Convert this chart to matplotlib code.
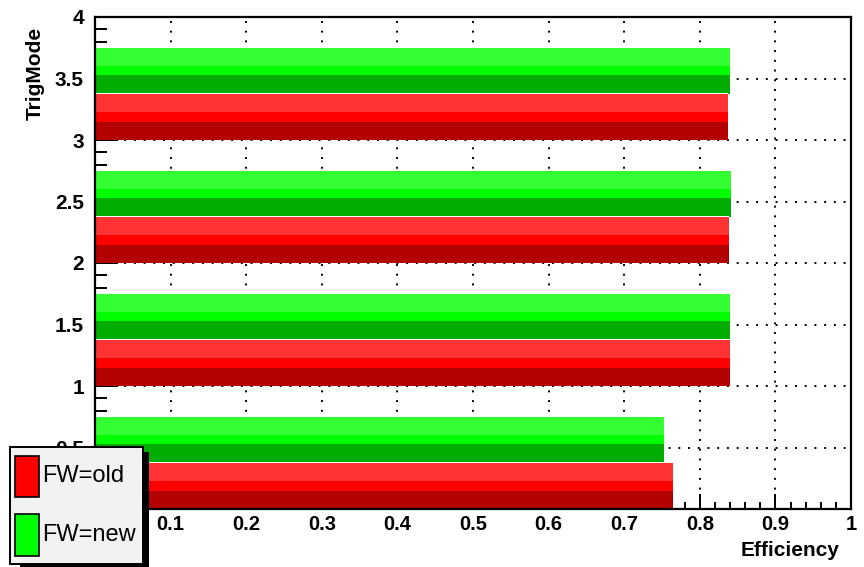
import matplotlib
matplotlib.use("Agg")
import matplotlib.pyplot as plt
from matplotlib.patches import Rectangle
from matplotlib.ticker import MultipleLocator

plt.rcParams['font.family'] = ['Liberation Sans', 'DejaVu Sans']

# efficiency per trigger mode, old vs new firmware
trig_mode = [0, 1, 2, 3]
eff_old = [0.765, 0.840, 0.839, 0.837]
eff_new = [0.753, 0.840, 0.841, 0.840]

labels = ["FW=old", "FW=new"]
red_shades = ["#B30000", "#FF0000", "#FF3333"]    # dark, base, bright
green_shades = ["#00AD00", "#00FF00", "#33FF33"]
bar_width = 0.375
band_frac = [0.4, 0.2, 0.4]


def shaded_barh(ax, y0, length, height, shades):
    # root-style bar: dark bottom band, plain middle, bright top
    bottom = y0
    for frac, col in zip(band_frac, shades):
        ax.barh(bottom, length, height=height * frac, align='edge',
                color=col, linewidth=0, zorder=1)
        bottom += height * frac
    # thin white rim on top of each bar
    ax.barh(y0 + height, length, height=0.006, align='edge',
            color='white', linewidth=0, zorder=1.1)


def tick_fmt(v, pos):
    # the zero labels sit under the legend box
    return "" if abs(v) < 1e-9 else f"{v:g}"


fig = plt.figure(figsize=(8.64, 5.67), dpi=100)
ax = fig.add_axes([95 / 864, 1 - 509 / 567, 756 / 864, 492 / 567])

for i, m in enumerate(trig_mode):
    shaded_barh(ax, m, eff_old[i], bar_width, red_shades)
    shaded_barh(ax, m + bar_width, eff_new[i], bar_width, green_shades)

ax.set_xlim(0, 1)
ax.set_ylim(0, 4)
ax.xaxis.set_major_locator(MultipleLocator(0.1))
ax.xaxis.set_minor_locator(MultipleLocator(0.02))
ax.yaxis.set_major_locator(MultipleLocator(0.5))
ax.yaxis.set_minor_locator(MultipleLocator(0.1))
ax.xaxis.set_major_formatter(tick_fmt)
ax.yaxis.set_major_formatter(tick_fmt)

ax.set_axisbelow(True)
ax.grid(True, which='major', color='black', linestyle=(0, (1, 4)), linewidth=1.4)

ax.tick_params(axis='x', which='major', direction='in', length=10.8, width=1.4,
               pad=4, labelsize=14.5)
ax.tick_params(axis='x', which='minor', direction='in', length=5.3, width=1.4)
ax.tick_params(axis='y', which='major', direction='in', length=16.5, width=1.4,
               pad=8, labelsize=15)
ax.tick_params(axis='y', which='minor', direction='in', length=8.3, width=1.4)
for lab in ax.get_xticklabels() + ax.get_yticklabels():
    lab.set_fontweight('bold')

for sp in ax.spines.values():
    sp.set_linewidth(1.6)

fig.text(840 / 864, 1 - 550 / 567, "Efficiency", ha='right', va='center',
         fontsize=15, fontweight='bold')
fig.text(35 / 864, 1 - 27 / 567, "TrigMode", ha='center', va='top',
         rotation=90, fontsize=15, fontweight='bold')

# legend box with shadow, drawn in figure pixels
W, H = 864, 567
def fig_rect(x0, y0, x1, y1, **kw):
    r = Rectangle((x0 / W, 1 - y1 / H), (x1 - x0) / W, (y1 - y0) / H,
                  transform=fig.transFigure, **kw)
    fig.patches.append(r)

fig_rect(20, 452, 149, 572, facecolor='black', linewidth=0, zorder=10)
fig_rect(10, 447, 143, 564, facecolor='#F2F2F2', edgecolor='black',
         linewidth=1.4, zorder=11)
entry_boxes = [(456, 497), (514, 556)]
for lab, shades, (top, bot) in zip(labels, [red_shades, green_shades], entry_boxes):
    fig_rect(15, top, 39, bot, facecolor=shades[1], edgecolor='black',
             linewidth=1.2, zorder=12)
    fig.text(42 / W, 1 - (top + bot) / 2 / H, lab, ha='left', va='center',
             fontsize=17, zorder=13)

fig.savefig("out.png", dpi=100)
